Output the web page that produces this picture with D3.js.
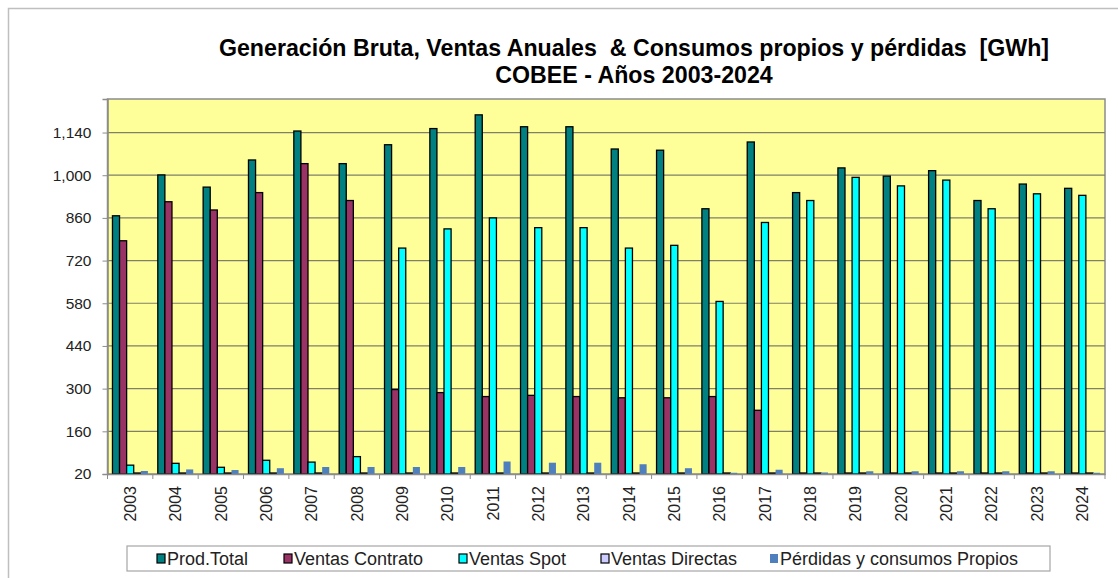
<!DOCTYPE html>
<html>
<head>
<meta charset="utf-8">
<script src="https://cdn.jsdelivr.net/npm/d3@7"></script>
<style>
  body { margin: 0; background: #fff; }
  svg text { font-family: Arial, "Liberation Sans", sans-serif; }
</style>
</head>
<body>
<div id="chart"></div>
<script>
// data (GWh)
var years = ["2003","2004","2005","2006","2007","2008","2009","2010","2011","2012","2013",
             "2014","2015","2016","2017","2018","2019","2020","2021","2022","2023","2024"];
var prodTotal = [867,1001,961,1050,1145,1038,1100,1153,1198,1159,1159,1086,1082,890,1109,943,1024,997,1015,917,971,957];
var ventasContrato = [785,913,886,943,1038,917,297,287,274,278,274,270,270,274,229,0,0,0,0,0,0,0];
var ventasSpot = [49,55,42,65,59,77,761,824,860,828,828,761,770,586,845,917,993,965,984,890,939,934];
var ventasDirectas = [0,0,0,0,0,0,0,0,0,0,0,0,0,0,0,0,0,0,0,0,0,0];
var perdidas = [30,35,33,39,43,43,43,43,61,57,57,52,39,24,34,25,29,29,29,29,29,24];
var yTicks = [20,160,300,440,580,720,860,1000,1140];

var seriesNames = ["Prod.Total","Ventas Contrato","Ventas Spot","Ventas Directas","Pérdidas y consumos Propios"];
var seriesValues = [prodTotal, ventasContrato, ventasSpot, ventasDirectas, perdidas];
var colors = ["#008080","#993366","#00ffff","#ccccff","#4f7fbd"];

var renderChart = function(){
  var width = 1118, height = 578;
  var left = 107.5, right = 1105, top = 99, bottom = 474;

  var svg = d3.select("#chart").append("svg")
    .attr("width", width)
    .attr("height", height);

  // outer chart border
  svg.append("rect")
    .attr("x", 8.5).attr("y", 8.5)
    .attr("width", width + 10).attr("height", height + 10)
    .attr("fill", "#fff").attr("stroke", "#bfbfbf").attr("stroke-width", 1.5);

  var title = svg.append("text")
    .attr("text-anchor", "middle")
    .attr("font-weight", "bold")
    .attr("font-size", "23.2px")
    .style("white-space", "pre");
  title.append("tspan").attr("x", 634).attr("y", 56)
    .text("Generación Bruta, Ventas Anuales  & Consumos propios y pérdidas  [GWh]");
  title.append("tspan").attr("x", 634).attr("y", 83)
    .text("COBEE - Años 2003-2024");

  var x0 = d3.scaleBand().domain(years).range([left, right]).padding(0);
  var x1 = d3.scaleBand().domain(d3.range(seriesNames.length))
    .range([0, x0.bandwidth()]).paddingInner(0).paddingOuter(0.7);
  var y = d3.scaleLinear().domain([20, 1250]).range([bottom, top]).clamp(true);

  // plot area
  svg.append("rect")
    .attr("x", left).attr("y", top)
    .attr("width", right - left).attr("height", bottom - top)
    .attr("fill", "#ffff99").attr("stroke", "#8c8c8c").attr("stroke-width", 1.5);

  svg.append("g").selectAll("line")
    .data(yTicks.slice(1))
    .enter().append("line")
    .attr("x1", left).attr("x2", right)
    .attr("y1", function(d){ return y(d); })
    .attr("y2", function(d){ return y(d); })
    .attr("stroke", "#7f7f6a").attr("stroke-width", 1.2);

  // bars
  var groups = svg.append("g").selectAll("g")
    .data(years)
    .enter().append("g")
    .attr("transform", function(d){ return "translate(" + x0(d) + ",0)"; });

  groups.selectAll("rect")
    .data(function(d, i){
      return seriesValues.map(function(s, k){ return {k: k, v: s[i]}; });
    })
    .enter().append("rect")
    .attr("x", function(d){ return x1(d.k); })
    .attr("y", function(d){ return y(d.v) - (d.v <= 20 ? 1 : 0); })
    .attr("width", x1.bandwidth())
    .attr("height", function(d){ return Math.max(1, y(20) - y(d.v)); })
    .attr("fill", function(d){ return colors[d.k]; })
    .attr("stroke", function(d){ return d.k == 4 ? "none" : "#000"; })
    .attr("stroke-width", 1.3);

  // y axis
  var yAxis = svg.append("g")
    .attr("transform", "translate(" + left + ",0)")
    .call(d3.axisLeft(y).tickValues(yTicks).tickFormat(d3.format(",")).tickSize(5).tickPadding(11));
  yAxis.select(".domain").attr("stroke", "#8c8c8c").attr("stroke-width", 1.5);
  yAxis.selectAll(".tick line").attr("stroke", "#8c8c8c");
  yAxis.selectAll("text").attr("font-size", "15.5px").attr("fill", "#222")
    .attr("font-family", "Arial, 'Liberation Sans', sans-serif");

  // x axis
  var xAxis = svg.append("g")
    .attr("transform", "translate(0," + bottom + ")")
    .call(d3.axisBottom(x0).tickSize(0).tickPadding(0));
  xAxis.select(".domain").attr("stroke", "#8c8c8c").attr("stroke-width", 1.5);
  xAxis.selectAll("text")
    .attr("font-size", "16px").attr("fill", "#222")
    .attr("font-family", "Arial, 'Liberation Sans', sans-serif")
    .attr("text-anchor", "end")
    .attr("transform", "rotate(-90)")
    .attr("x", -12).attr("y", 0).attr("dy", "0.36em");
  xAxis.selectAll("line.sep")
    .data(years.concat(["end"]))
    .enter().append("line")
    .attr("class", "sep")
    .attr("x1", function(d, i){ return left + i * x0.step(); })
    .attr("x2", function(d, i){ return left + i * x0.step(); })
    .attr("y1", 0).attr("y2", 5)
    .attr("stroke", "#8c8c8c");

  // legend
  var legend = svg.append("g");
  legend.append("rect")
    .attr("x", 127).attr("y", 546).attr("width", 923).attr("height", 25)
    .attr("fill", "#fff").attr("stroke", "#a6a6a6").attr("stroke-width", 1.2);
  var legendX = [157, 284, 459, 601, 770];
  var items = legend.selectAll("g.item")
    .data(seriesNames)
    .enter().append("g")
    .attr("class", "item")
    .attr("transform", function(d, i){ return "translate(" + legendX[i] + ",558.5)"; });
  items.append("rect")
    .attr("x", 0).attr("y", -4.5).attr("width", 8).attr("height", 9)
    .attr("fill", function(d, i){ return colors[i]; })
    .attr("stroke", function(d, i){ return i == 4 ? "none" : "#000"; })
    .attr("stroke-width", 1.2);
  items.append("text")
    .attr("x", 10).attr("dy", "0.36em")
    .attr("font-size", "18px").attr("fill", "#222")
    .text(function(d){ return d; });
}

renderChart();
</script>
</body>
</html>
